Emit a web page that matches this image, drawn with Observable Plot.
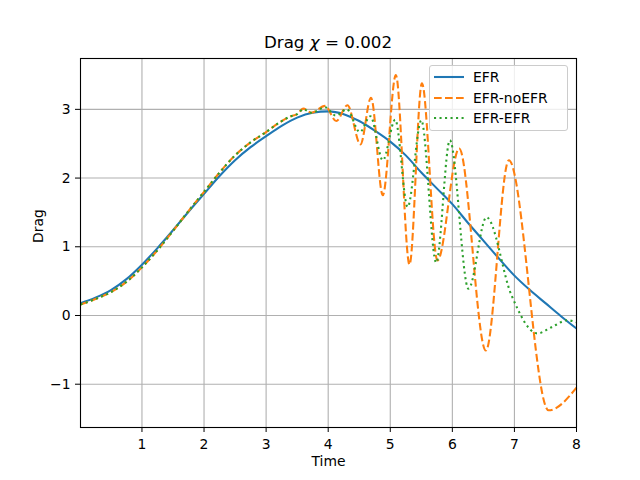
<!DOCTYPE html>
<html>
<head>
<meta charset="utf-8">
<script src="https://cdn.jsdelivr.net/npm/d3@7"></script>
<script src="https://cdn.jsdelivr.net/npm/@observablehq/plot@0.6"></script>
<style>
  body { margin: 0; background: white; }
  #wrap { position: relative; width: 640px; height: 480px; font-family: "DejaVu Sans", sans-serif; }
  #title { height: 50px; box-sizing: border-box; padding-top: 34px; line-height: 17px; font-size: 16.7px; text-align: center; padding-left: 16px; color: #000; }
  #title i { font-family: "DejaVu Sans"; font-style: oblique; }
  #legend { position: absolute; left: 429px; top: 65px; width: 139px; height: 66px; box-sizing: border-box;
            border: 1px solid #cccccc; border-radius: 3px; background: rgba(255,255,255,0.8); font-size: 13.9px; }
  .row { position: absolute; left: 0; height: 20px; width: 100%; }
  .row svg { position: absolute; left: 3px; top: 0; }
  .row span { position: absolute; left: 43px; top: 1px; line-height: 18px; }
</style>
</head>
<body>
<div id="wrap">
  <div id="title">Drag <i>χ</i> = 0.002</div>
  <div id="chart"></div>
  <div id="legend"></div>
</div>
<script>
// ---- data ----
const seriesNames = ["EFR", "EFR-noEFR", "EFR-EFR"];
const seriesColors = ["#1f77b4", "#ff7f0e", "#2ca02c"];

const timeEFR = [0.01,0.25,0.5,0.75,1,1.25,1.5,1.75,2,2.25,2.5,2.75,3,3.25,3.5,3.75,4,4.25,4.5,4.75,5,5.25,5.5,5.75,6,6.25,6.5,6.75,7,7.25,7.5,7.75,8];
const dragEFR = [0.18,0.26,0.37,0.53,0.74,0.98,1.24,1.51,1.77,2.03,2.26,2.45,2.61,2.76,2.88,2.95,2.97,2.93,2.83,2.69,2.53,2.33,2.08,1.85,1.62,1.35,1.09,0.83,0.58,0.37,0.18,-0.01,-0.19];

const timeNoEFR = [0.01,0.25,0.5,0.75,1,1.25,1.5,1.75,2,2.25,2.5,2.75,3,3.2,3.4,3.5,3.6,3.73,3.95,4.13,4.31,4.52,4.69,4.88,5.09,5.31,5.51,5.76,6.11,6.54,6.91,7.55,8];
const dragNoEFR = [0.16,0.24,0.34,0.49,0.70,0.95,1.23,1.52,1.80,2.08,2.33,2.52,2.67,2.80,2.90,2.93,3.01,2.95,3.05,2.83,3.06,2.49,3.17,1.75,3.50,0.74,3.38,0.80,2.43,-0.51,2.26,-1.38,-1.05];

const timeEFREFR = [0.01,0.25,0.5,0.75,1,1.25,1.5,1.75,2,2.25,2.5,2.75,3,3.2,3.4,3.5,3.6,3.73,3.95,4.12,4.30,4.51,4.68,4.88,5.08,5.28,5.50,5.74,5.96,6.26,6.55,6.95,7.37,7.6,7.85,8];
const dragEFREFR = [0.16,0.24,0.34,0.49,0.70,0.95,1.23,1.52,1.80,2.08,2.33,2.52,2.67,2.80,2.90,2.93,3.00,2.95,3.03,2.91,3.00,2.67,2.90,2.26,2.85,1.58,2.84,0.77,2.55,0.39,1.43,0.30,-0.26,-0.17,-0.07,-0.10];

const xTicks = [1,2,3,4,5,6,7,8];
const yTicks = [-1,0,1,2,3];

// ---- build tables ----
const toRows = (ts, vs) => ts.map((t, i) => ({t, v: vs[i]}));
const rowsEFR = toRows(timeEFR, dragEFR);
const rowsNoEFR = toRows(timeNoEFR, dragNoEFR);
const rowsEFREFR = toRows(timeEFREFR, dragEFREFR);

const fmt = d => d < 0 ? "\u2212" + Math.abs(d) : String(d);
const lw = 2.08;

const chart = Plot.plot({
  width: 640,
  height: 430,
  marginTop: 8,
  marginBottom: 53,
  marginLeft: 80,
  marginRight: 64,
  style: { fontFamily: "DejaVu Sans", fontSize: "13.9px", background: "white", overflow: "visible", color: "black" },
  x: { domain: [0.01, 8] },
  y: { domain: [-1.63, 3.74] },
  marks: [
    Plot.gridX(xTicks, { stroke: "#b0b0b0", strokeOpacity: 1, strokeWidth: 1.1 }),
    Plot.gridY(yTicks, { stroke: "#b0b0b0", strokeOpacity: 1, strokeWidth: 1.1 }),
    Plot.line(rowsEFR, { x: "t", y: "v", stroke: seriesColors[0], strokeWidth: lw, curve: "monotone-x", strokeLinecap: "butt" }),
    Plot.line(rowsNoEFR, { x: "t", y: "v", stroke: seriesColors[1], strokeWidth: lw, curve: "monotone-x", strokeDasharray: "7.7,3.3", strokeLinecap: "butt" }),
    Plot.line(rowsEFREFR, { x: "t", y: "v", stroke: seriesColors[2], strokeWidth: lw, curve: "monotone-x", strokeDasharray: "2.08,3.43", strokeLinecap: "butt" }),
    Plot.frame({ stroke: "black", strokeWidth: 1.1 }),
    Plot.axisX(xTicks, { tickSize: 5, tickPadding: 7, label: null, tickFormat: fmt, fontSize: 13.9 }),
    Plot.axisY(yTicks, { tickSize: 5, tickPadding: 5, label: null, tickFormat: fmt, fontSize: 13.9 }),
    Plot.text(["Time"], { frameAnchor: "bottom", dy: 38, fontSize: 13.9, fill: "black" }),
    Plot.text(["Drag"], { frameAnchor: "left", dx: -42, rotate: -90, fontSize: 13.9, fill: "black" })
  ]
});
document.getElementById("chart").appendChild(chart);

// ---- legend ----
const legend = document.getElementById("legend");
const dashes = [null, "7.7,3.3", "2.08,3.43"];
const rowTops = [1, 21.5, 42];
seriesNames.forEach((name, i) => {
  const row = document.createElement("div");
  row.className = "row";
  row.style.top = rowTops[i] + "px";
  const dash = dashes[i] ? ` stroke-dasharray="${dashes[i]}"` : "";
  row.innerHTML = `<svg width="32" height="20"><line x1="1" x2="31" y1="10" y2="10" stroke="${seriesColors[i]}" stroke-width="${lw}"${dash}/></svg><span>${name}</span>`;
  legend.appendChild(row);
});
</script>
</body>
</html>
